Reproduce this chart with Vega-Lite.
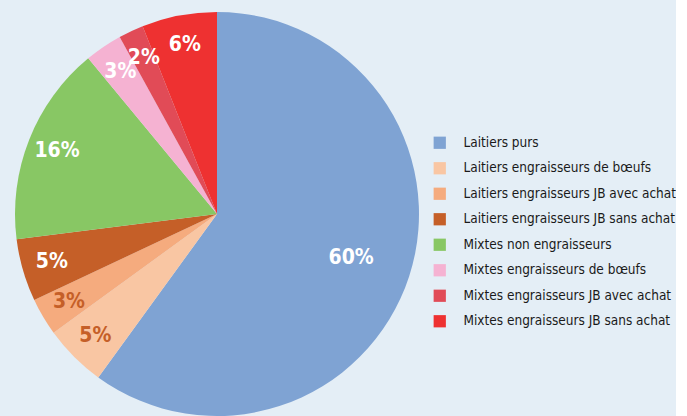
{
  "$schema": "https://vega.github.io/schema/vega-lite/v6.json",
  "width": 434,
  "height": 428,
  "padding": 0,
  "background": "#e4eef6",
  "view": {"stroke": null},
  "data": {
    "values": [
      {"i": 1, "cat": "Laitiers purs", "pct": 60, "label": "60%"},
      {"i": 2, "cat": "Laitiers engraisseurs de bœufs", "pct": 5, "label": "5%"},
      {"i": 3, "cat": "Laitiers engraisseurs JB avec achat", "pct": 3, "label": "3%"},
      {"i": 4, "cat": "Laitiers engraisseurs JB sans achat", "pct": 5, "label": "5%"},
      {"i": 5, "cat": "Mixtes non engraisseurs", "pct": 16, "label": "16%"},
      {"i": 6, "cat": "Mixtes engraisseurs de bœufs", "pct": 3, "label": "3%"},
      {"i": 7, "cat": "Mixtes engraisseurs JB avec achat", "pct": 2, "label": "2%"},
      {"i": 8, "cat": "Mixtes engraisseurs JB sans achat", "pct": 6, "label": "6%"}
    ]
  },
  "encoding": {
    "theta": {"field": "pct", "type": "quantitative", "stack": true},
    "order": {"field": "i", "type": "quantitative"}
  },
  "layer": [
    {
      "mark": {"type": "arc", "outerRadius": 202},
      "encoding": {
        "color": {
          "field": "cat",
          "type": "nominal",
          "sort": null,
          "scale": {
            "domain": ["Laitiers purs", "Laitiers engraisseurs de bœufs", "Laitiers engraisseurs JB avec achat", "Laitiers engraisseurs JB sans achat", "Mixtes non engraisseurs", "Mixtes engraisseurs de bœufs", "Mixtes engraisseurs JB avec achat", "Mixtes engraisseurs JB sans achat"],
            "range": ["#7fa3d3", "#f9c6a3", "#f5ab7e", "#c55f28", "#88c764", "#f5b2d2", "#e14b57", "#ee3131"]
          },
          "legend": {
            "title": null,
            "orient": "none",
            "legendX": 433,
            "legendY": 136,
            "symbolType": "square",
            "symbolSize": 150,
            "symbolStrokeWidth": 0,
            "labelFont": "DejaVu Sans Condensed",
            "labelFontSize": 13.5,
            "labelColor": "#1a1a1a",
            "labelOffset": 17,
            "rowPadding": 10.5,
            "labelLimit": 300
          }
        }
      }
    },
    {
      "transform": [{"filter": "datum.i == 1"}],
      "mark": {"type": "text", "radius": 141, "font": "DejaVu Sans Condensed", "fontWeight": "bold", "fontSize": 21, "color": "white"},
      "encoding": {"text": {"field": "label"}}
    },
    {
      "mark": {"type": "text", "radius": 172, "font": "DejaVu Sans Condensed", "fontWeight": "bold", "fontSize": 21},
      "encoding": {
        "text": {"condition": {"test": "datum.i == 1", "value": ""}, "field": "label"},
        "color": {"condition": {"test": "datum.i == 2 || datum.i == 3", "value": "#c55f28"}, "value": "white"}
      }
    }
  ]
}
